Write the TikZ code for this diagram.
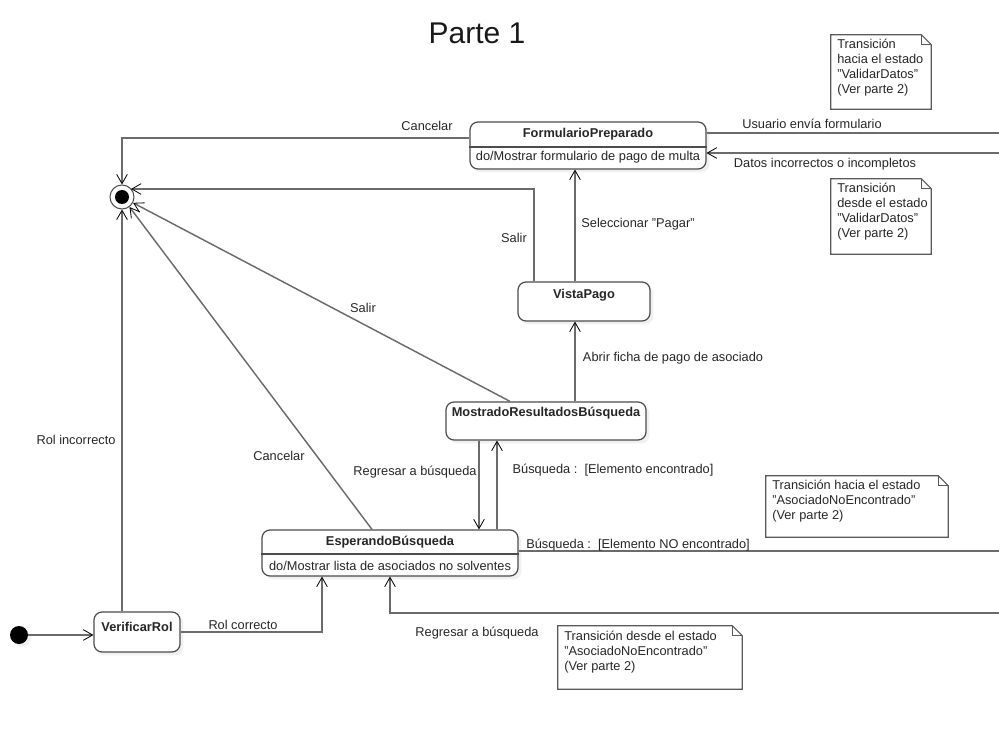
\documentclass[tikz,border=0pt]{standalone}
\usepackage{fontspec}
\setmainfont{Liberation Sans}
\usetikzlibrary{arrows.meta,calc,shadows}

% straight double quote
\newcommand\dq{\symbol{34}}

% outline of a note with a folded top-right corner, around node #1
\newcommand\drawnote[1]{%
  \draw[notebox] (#1.north west) -- ([xshift=-7.5pt]#1.north east)
    -- ([yshift=-7.5pt]#1.north east) -- (#1.south east)
    -- (#1.south west) -- cycle;
  \draw[notebox] ([xshift=-7.5pt]#1.north east) -- ([xshift=-7.5pt,yshift=-7.5pt]#1.north east)
    -- ([yshift=-7.5pt]#1.north east);}

\begin{document}
\begin{tikzpicture}[x=0.75pt,y=-0.75pt,
  txt/.style={font=\fontsize{9.6}{11.25}\selectfont, text=black!85, inner sep=0pt},
  stname/.style={txt, font=\fontsize{9.6}{11.25}\selectfont\bfseries},
  statebox/.style={draw=black!70, line width=0.9pt, rounded corners=6pt, fill=white,
    inner sep=0pt, drop shadow={shadow xshift=2.5pt, shadow yshift=-2.5pt, opacity=0.12}},
  tr/.style={draw=black!58, line width=1.1pt},
  arr/.style={tr, -{Straight Barb[length=7pt,width=8pt,line width=0.6pt,color=black]}},
  notebox/.style={draw=black!65, line width=0.8pt},
  notetxt/.style={txt, align=left, anchor=north west},
]
\useasboundingbox (0,0) rectangle (999,755);

% title
\node[font=\fontsize{22.5}{26}\selectfont, text=black!90, inner sep=0pt] (title) at (477,33) {Parte 1};

% initial and final states
\node[circle, fill=black, minimum size=18*0.75pt, inner sep=0pt,
  drop shadow={shadow xshift=2pt, shadow yshift=-2pt, opacity=0.12}] (ini) at (19,635) {};
\node[circle, draw=black!70, line width=0.8pt, fill=white, minimum size=24*0.75pt, inner sep=0pt] (fin) at (122,197) {};
\node[circle, fill=black, minimum size=14*0.75pt, inner sep=0pt] (fini) at (fin) {};

% states
\node[statebox, minimum width=236*0.75pt, minimum height=47*0.75pt] (fp) at (588,145.5) {};
\draw[draw=black!70, line width=0.8pt] (fp.west |- 0,147) -- (fp.east |- 0,147);
\node[stname] (fpt) at (588,134) {FormularioPreparado};
\node[txt] (fpd) at (588,157.5) {do/Mostrar formulario de pago de multa};

\node[statebox, minimum width=132*0.75pt, minimum height=39*0.75pt] (vp) at (584,301.5) {};
\node[stname] (vpt) at (584,295) {VistaPago};

\node[statebox, minimum width=200*0.75pt, minimum height=38*0.75pt] (mr) at (546,421) {};
\node[stname] (mrt) at (546,413) {MostradoResultadosBúsqueda};

\node[statebox, minimum width=256*0.75pt, minimum height=46*0.75pt] (eb) at (390,553) {};
\draw[draw=black!70, line width=0.8pt] (eb.west |- 0,554) -- (eb.east |- 0,554);
\node[stname] (ebt) at (390,542) {EsperandoBúsqueda};
\node[txt] (ebd) at (390,565.5) {do/Mostrar lista de asociados no solventes};

\node[statebox, minimum width=86*0.75pt, minimum height=40*0.75pt] (vr) at (137,632) {};
\node[stname] (vrt) at (137,627) {VerificarRol};

% free ends at the right border
\coordinate (r1) at (999,133);
\coordinate (r2) at (999,153);
\coordinate (r3) at (999,551);
\coordinate (r4) at (999,613);

% x positions of the vertical transitions
\coordinate (xa) at (575,0);
\coordinate (xb) at (479,0);
\coordinate (xc) at (497,0);
\coordinate (xd) at (534,0);

% transitions
\draw[arr] (ini) -- (ini -| vr.west);
\draw[arr] (fin |- vr.north) -- (fin.south);
\draw[arr] (vr.east) -| ($(eb.south)+(-68,0)$);
\draw[arr] ($(eb.north)+(-18,0)$) -- (fin);
\draw[arr] ($(mr.north)+(-36,0)$) -- (fin);
\draw[arr] (vp.north -| xd) |- ($(fin.center)+(9,-8)$);
\draw[arr] (vp.north -| xa) -- (fp.south -| xa);
\draw[arr] (mr.north -| xa) -- (vp.south -| xa);
\draw[arr] (fp.west |- 0,138) -| (fin.north);
\draw[tr] (fp.east |- r1) -- (r1);
\draw[arr] (r2) -- (fp.east |- r2);
\draw[arr] (mr.south -| xb) -- (eb.north -| xb);
\draw[arr] (eb.north -| xc) -- (mr.south -| xc);
\draw[tr] (eb.east |- r3) -- (r3);
\draw[arr] (r4) -| (eb.south);

% transition labels
\node[txt] (l1) at (427,126) {Cancelar};
\node[txt] (l2) at (812,124) {Usuario envía formulario};
\node[txt] (l3) at (825,164) {Datos incorrectos o incompletos};
\node[txt] (l4) at (514,238) {Salir};
\node[txt] (l5) at (638,224) {Seleccionar \dq Pagar\dq};
\node[txt] (l6) at (363,308) {Salir};
\node[txt] (l7) at (673,358) {Abrir ficha de pago de asociado};
\node[txt] (l8) at (76,440) {Rol incorrecto};
\node[txt] (l9) at (279,456) {Cancelar};
\node[txt] (l10) at (415,472) {Regresar a búsqueda};
\node[txt] (l11) at (613,470) {Búsqueda :\ \ [Elemento encontrado]};
\node[txt] (l12) at (638,545) {Búsqueda :\ \ [Elemento NO encontrado]};
\node[txt] (l13) at (243,625) {Rol correcto};
\node[txt] (l14) at (477,633) {Regresar a búsqueda};

% notes
\node[minimum width=100*0.75pt, minimum height=74*0.75pt, inner sep=0pt] (n1) at (881,72) {};
\drawnote{n1}
\node[notetxt] (n1t) at (837,39) {Transición\\hacia el estado\\\dq ValidarDatos\dq\\(Ver parte 2)};

\node[minimum width=100*0.75pt, minimum height=75*0.75pt, inner sep=0pt] (n2) at (881,216.5) {};
\drawnote{n2}
\node[notetxt] (n2t) at (837,183) {Transición\\desde el estado\\\dq ValidarDatos\dq\\(Ver parte 2)};

\node[minimum width=182*0.75pt, minimum height=61*0.75pt, inner sep=0pt] (n3) at (857,506.5) {};
\drawnote{n3}
\node[notetxt] (n3t) at (772,480) {Transición hacia el estado\\\dq AsociadoNoEncontrado\dq\\(Ver parte 2)};

\node[minimum width=184*0.75pt, minimum height=63*0.75pt, inner sep=0pt] (n4) at (650,657.5) {};
\drawnote{n4}
\node[notetxt] (n4t) at (564,631) {Transición desde el estado\\\dq AsociadoNoEncontrado\dq\\(Ver parte 2)};
\end{tikzpicture}
\end{document}
